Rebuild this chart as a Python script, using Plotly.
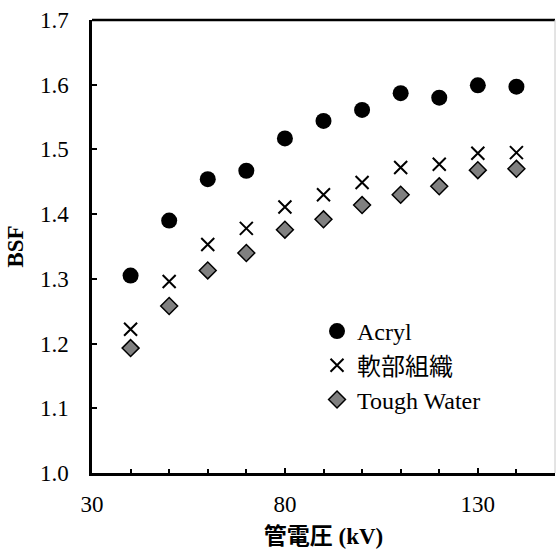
import plotly.graph_objects as go

kv = [40, 50, 60, 70, 80, 90, 100, 110, 120, 130, 140]
acryl = [1.305, 1.390, 1.454, 1.467, 1.517, 1.544, 1.561, 1.587, 1.580, 1.599, 1.597]
soft_tissue = [1.222, 1.296, 1.353, 1.378, 1.411, 1.430, 1.449, 1.472, 1.477, 1.494, 1.495]
tough_water = [1.193, 1.258, 1.313, 1.340, 1.376, 1.392, 1.414, 1.430, 1.443, 1.468, 1.470]

x_ticks = [30, 80, 130]
y_ticks = [1.0, 1.1, 1.2, 1.3, 1.4, 1.5, 1.6, 1.7]
y_tick_labels = ["1.0", "1.1", "1.2", "1.3", "1.4", "1.5", "1.6", "1.7"]

font_serif = "Liberation Serif, Times New Roman, Noto Sans CJK JP, serif"
FS = 23

fig = go.Figure()
fig.add_trace(go.Scatter(
    x=kv, y=acryl, mode="markers", name="Acryl",
    marker=dict(symbol="circle", size=16, color="black", line=dict(width=0)),
))
fig.add_trace(go.Scatter(
    x=kv, y=soft_tissue, mode="markers", name="軟部組織",
    marker=dict(symbol="x-thin", size=13, color="black", line=dict(width=2, color="black")),
))
fig.add_trace(go.Scatter(
    x=kv, y=tough_water, mode="markers", name="Tough Water",
    marker=dict(symbol="diamond", size=13, color="#808080", line=dict(width=1.5, color="black")),
))

fig.update_layout(
    width=557, height=549,
    margin=dict(l=92, r=2, t=20, b=76),
    paper_bgcolor="white", plot_bgcolor="white",
    font=dict(family=font_serif, size=FS, color="black"),
    showlegend=True,
    legend=dict(
        x=0.486, y=0.362, xanchor="left", yanchor="top",
        bgcolor="rgba(0,0,0,0)", borderwidth=0,
        font=dict(family=font_serif, size=24, color="black"),
        itemwidth=30, tracegroupgap=0,
    ),
)
fig.update_xaxes(
    range=[30, 150], tickvals=x_ticks, ticktext=[str(v) for v in x_ticks],
    showgrid=False, zeroline=False,
    showline=True, linecolor="black", linewidth=2.5,
    ticks="inside", ticklen=5, tickwidth=1.5, tickcolor="black",
    minor=dict(dtick=10, tick0=30, ticks="inside", ticklen=4, tickwidth=1.5, tickcolor="black", showgrid=False),
    ticklabelstandoff=9,
    tickfont=dict(family=font_serif, size=FS),
    title=dict(text="<b>管電圧 (kV)</b>", standoff=12,
               font=dict(family=font_serif, size=FS)),
)
fig.update_yaxes(
    range=[1.0, 1.7], tickvals=y_ticks, ticktext=y_tick_labels,
    showgrid=False, zeroline=False,
    showline=True, linecolor="black", linewidth=2.5,
    ticks="inside", ticklen=5, tickwidth=1.5, tickcolor="black",
    ticklabelstandoff=16,
    tickfont=dict(family=font_serif, size=FS),
    title=dict(text="<b>BSF</b>", standoff=10,
               font=dict(family=font_serif, size=FS)),
)
# top border (black) and right border (light gray)
fig.add_shape(type="line", xref="paper", yref="paper", x0=0, x1=1, y0=1, y1=1,
              line=dict(color="black", width=2.5))
fig.add_shape(type="line", xref="paper", yref="paper", x0=1, x1=1, y0=0, y1=1,
              line=dict(color="#c8c8c8", width=1))

fig.write_html(
    "out.html",
    config={"displayModeBar": False},
    post_script="document.body.style.margin='0';document.body.style.padding='0';document.body.style.overflow='hidden';",
)
